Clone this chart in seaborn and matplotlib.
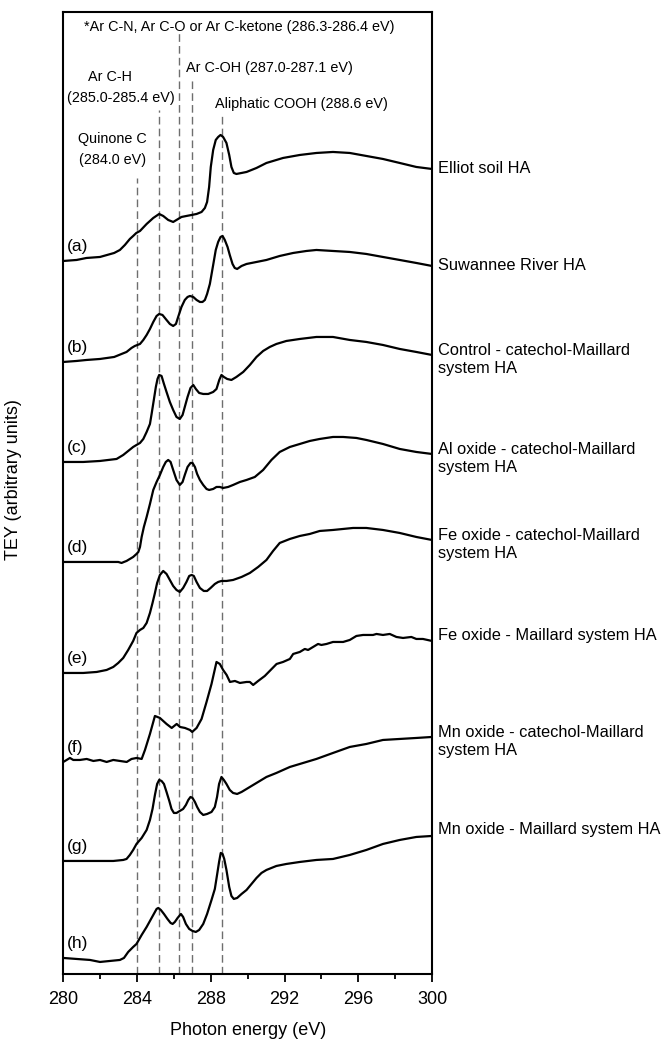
import numpy as np
import pandas as pd
import matplotlib
matplotlib.use("Agg")
import matplotlib.pyplot as plt
import seaborn as sns

# C 1s NEXAFS spectra (TEY), relative to each pre-edge
samples = ["Elliot soil HA", "Suwannee River HA",
           "Control - catechol-Maillard\nsystem HA",
           "Al oxide - catechol-Maillard\nsystem HA",
           "Fe oxide - catechol-Maillard\nsystem HA",
           "Fe oxide - Maillard system HA",
           "Mn oxide - catechol-Maillard\nsystem HA",
           "Mn oxide - Maillard system HA"]
panels = ["(a)", "(b)", "(c)", "(d)", "(e)", "(f)", "(g)", "(h)"]

a_e = [280.0, 280.72, 281.26, 281.99, 282.76, 283.07, 283.34, 283.61, 283.79, 283.96,
       284.16, 284.52, 284.88, 285.2, 285.42, 285.69, 285.96, 286.23, 286.41, 286.68,
       286.96, 287.23, 287.5, 287.68, 287.8, 287.91, 288.0, 288.13, 288.27, 288.4,
       288.53, 288.67, 288.85, 289.0, 289.12, 289.25, 289.39, 289.67, 289.94, 290.48,
       291.02, 291.92, 292.83, 293.73, 294.63, 295.54, 296.44, 297.34, 298.25, 299.15, 300.0]
a_i = [0, 0.01, 0.03, 0.04, 0.08, 0.11, 0.16, 0.22, 0.25, 0.28,
       0.3, 0.37, 0.43, 0.47, 0.45, 0.41, 0.39, 0.42, 0.44, 0.45,
       0.46, 0.47, 0.49, 0.53, 0.59, 0.74, 0.94, 1.11, 1.21, 1.24,
       1.26, 1.24, 1.18, 1.06, 0.94, 0.88, 0.87, 0.88, 0.89, 0.93,
       0.98, 1.03, 1.06, 1.08, 1.09, 1.08, 1.05, 1.02, 0.98, 0.94, 0.92]

b_e = [280.0, 280.72, 281.26, 281.99, 282.76, 283.16, 283.43, 283.7, 283.88, 284.16,
       284.34, 284.52, 284.7, 284.88, 285.06, 285.2, 285.38, 285.6, 285.78, 285.96,
       286.11, 286.23, 286.41, 286.59, 286.74, 286.87, 287.05, 287.23, 287.41, 287.55,
       287.68, 287.8, 287.95, 288.13, 288.27, 288.4, 288.53, 288.64, 288.76, 288.91,
       289.03, 289.18, 289.3, 289.43, 289.67, 289.94, 290.48, 291.02, 291.74, 292.47,
       293.19, 293.73, 294.63, 295.54, 296.44, 297.34, 298.25, 299.15, 300.0]
b_i = [0, 0.01, 0.02, 0.03, 0.05, 0.08, 0.1, 0.14, 0.16, 0.18,
       0.22, 0.27, 0.33, 0.4, 0.46, 0.48, 0.47, 0.42, 0.38, 0.36,
       0.38, 0.45, 0.55, 0.62, 0.65, 0.66, 0.65, 0.62, 0.6, 0.6,
       0.62, 0.68, 0.78, 0.97, 1.12, 1.2, 1.25, 1.26, 1.22, 1.15,
       1.07, 0.98, 0.94, 0.93, 0.96, 0.98, 1.0, 1.02, 1.06, 1.09,
       1.11, 1.12, 1.11, 1.1, 1.08, 1.05, 1.02, 0.99, 0.96]

c_e = [280.0, 281.08, 281.99, 282.89, 283.25, 283.52, 283.79, 283.97, 284.16, 284.34,
       284.52, 284.7, 284.79, 284.91, 285.02, 285.11, 285.2, 285.33, 285.46, 285.6,
       285.78, 285.96, 286.14, 286.32, 286.47, 286.59, 286.74, 286.9, 287.05, 287.19,
       287.37, 287.59, 287.86, 288.13, 288.31, 288.46, 288.58, 288.71, 288.89, 289.12,
       289.39, 289.76, 290.12, 290.48, 290.84, 291.2, 291.56, 292.1, 292.83, 293.73,
       294.63, 295.54, 296.44, 297.34, 298.25, 299.15, 300.0]
c_i = [0, 0.0, 0.01, 0.03, 0.07, 0.11, 0.15, 0.17, 0.19, 0.23,
       0.3, 0.38, 0.48, 0.62, 0.75, 0.83, 0.87, 0.86, 0.78, 0.7,
       0.6, 0.52, 0.45, 0.43, 0.47, 0.55, 0.65, 0.74, 0.77, 0.73,
       0.69, 0.68, 0.68, 0.7, 0.73, 0.82, 0.87, 0.85, 0.83, 0.82,
       0.85, 0.9, 0.97, 1.05, 1.11, 1.15, 1.18, 1.21, 1.23, 1.25,
       1.25, 1.22, 1.2, 1.17, 1.13, 1.1, 1.07]

d_e = [280.0, 281.08, 281.99, 282.98, 283.16, 283.29, 283.43, 283.61, 283.79, 283.97,
       284.07, 284.16, 284.25, 284.37, 284.52, 284.7, 284.88, 285.06, 285.24, 285.42,
       285.56, 285.69, 285.82, 285.96, 286.14, 286.32, 286.47, 286.59, 286.74, 286.9,
       287.01, 287.14, 287.26, 287.41, 287.59, 287.77, 287.91, 288.13, 288.31, 288.49,
       288.67, 288.94, 289.21, 289.58, 289.94, 290.39, 290.84, 291.29, 291.74, 292.29,
       292.83, 293.37, 293.91, 294.63, 295.18, 295.9, 296.44, 297.34, 298.25, 299.15, 300.0]
d_i = [0, 0, 0, 0, -0.01, 0.0, 0.01, 0.03, 0.05, 0.08,
       0.1, 0.15, 0.25, 0.35, 0.45, 0.58, 0.72, 0.8, 0.87, 0.95,
       1.0, 1.02, 1.0, 0.92, 0.82, 0.77, 0.8, 0.87, 0.95, 0.99,
       0.99, 0.95, 0.88, 0.82, 0.77, 0.73, 0.72, 0.73, 0.75, 0.75,
       0.74, 0.75, 0.77, 0.8, 0.82, 0.85, 0.92, 1.02, 1.1, 1.15,
       1.18, 1.21, 1.23, 1.25, 1.25, 1.24, 1.22, 1.18, 1.13, 1.1, 1.08]

e_e = [280.0, 281.08, 281.81, 282.35, 282.71, 282.98, 283.25, 283.52, 283.79,
       283.97, 284.16, 284.34, 284.52, 284.7, 284.84, 284.97, 285.09, 285.24, 285.42,
       285.6, 285.78, 285.96, 286.14, 286.32, 286.5, 286.68, 286.83, 286.96, 287.08,
       287.23, 287.41, 287.62, 287.8, 287.99, 288.22, 288.4, 288.58, 288.85, 289.21,
       289.67, 290.12, 290.57, 291.02, 291.38, 291.74, 292.29, 292.83, 293.37, 293.91,
       294.63, 295.72, 296.44, 297.34, 298.25, 299.15, 300.0]
e_i = [0, 0, 0.01, 0.03, 0.06, 0.1, 0.15, 0.23, 0.32,
       0.4, 0.43, 0.45, 0.5, 0.6, 0.7, 0.8, 0.9, 0.98, 1.02,
       0.99, 0.93, 0.87, 0.83, 0.81, 0.85, 0.91, 0.97, 0.98, 0.97,
       0.91, 0.85, 0.82, 0.82, 0.85, 0.89, 0.91, 0.92, 0.92, 0.93,
       0.96, 1.0, 1.06, 1.13, 1.22, 1.3, 1.34, 1.37, 1.39, 1.42,
       1.43, 1.45, 1.45, 1.43, 1.4, 1.36, 1.33]

f_e = [280.0, 280.36, 280.54, 280.9, 281.27, 281.63, 281.99, 282.35, 282.71, 283.07, 283.44,
       283.7, 283.98, 284.25, 284.43, 284.7, 284.97, 285.24, 285.6, 285.88, 286.15, 286.33,
       286.6, 286.87, 286.99, 287.23, 287.5, 287.77, 288.04, 288.31, 288.49, 288.67, 288.86,
       289.04, 289.31, 289.58, 289.94, 290.12, 290.3, 290.57, 290.93, 291.57, 291.92, 292.29,
       292.47, 292.83, 293.1, 293.28, 293.55, 293.82, 294.0, 294.28, 294.63, 295.18, 295.54,
       295.9, 296.26, 296.8, 296.99, 297.34, 297.71, 298.07, 298.43, 298.88, 299.15, 299.51,
       300.0]
f_i = [0, 0.04, 0.02, 0.02, 0.03, 0.01, 0.02, 0.0, 0.02, 0.01, 0.0,
       0.03, 0.04, 0.03, 0.12, 0.28, 0.46, 0.44, 0.38, 0.34, 0.38, 0.35,
       0.34, 0.32, 0.3, 0.34, 0.43, 0.6, 0.78, 1.0, 0.98, 0.92, 0.87,
       0.8, 0.81, 0.79, 0.8, 0.8, 0.77, 0.81, 0.86, 0.98, 1.0, 1.03,
       1.08, 1.1, 1.13, 1.12, 1.15, 1.18, 1.17, 1.18, 1.2, 1.2, 1.22,
       1.26, 1.27, 1.27, 1.28, 1.27, 1.28, 1.25, 1.24, 1.25, 1.23, 1.23,
       1.21]

g_e = [280.0, 281.08, 281.99, 282.71, 283.25, 283.43, 283.61, 283.79, 283.97, 284.25,
       284.52, 284.7, 284.84, 284.97, 285.09, 285.2, 285.33, 285.46, 285.6, 285.75,
       285.87, 286.0, 286.14, 286.32, 286.5, 286.65, 286.78, 286.9, 287.01, 287.14,
       287.26, 287.41, 287.59, 287.8, 288.04, 288.22, 288.34, 288.45, 288.58, 288.71,
       288.85, 289.03, 289.21, 289.43, 289.67, 289.94, 290.3, 290.66, 291.02, 291.56,
       292.29, 293.01, 293.73, 294.63, 295.54, 296.44, 297.34, 298.25, 299.15, 300.0]
g_i = [0, 0, 0, 0, 0.01, 0.02, 0.06, 0.11, 0.17, 0.23,
       0.31, 0.41, 0.52, 0.66, 0.77, 0.81, 0.8, 0.77, 0.69, 0.6,
       0.52, 0.48, 0.48, 0.5, 0.52, 0.56, 0.61, 0.64, 0.63, 0.59,
       0.54, 0.49, 0.46, 0.47, 0.49, 0.54, 0.64, 0.77, 0.84, 0.81,
       0.77, 0.71, 0.68, 0.67, 0.69, 0.72, 0.76, 0.8, 0.84, 0.88,
       0.94, 0.98, 1.02, 1.08, 1.14, 1.17, 1.21, 1.22, 1.23, 1.24]

h_e = [280.0, 280.72, 281.45, 281.99, 282.53, 283.07, 283.29, 283.52, 283.79, 283.97,
       284.25, 284.52, 284.73, 284.91, 285.06, 285.15, 285.29, 285.46, 285.65, 285.82,
       285.93, 286.05, 286.2, 286.38, 286.5, 286.65, 286.83, 287.01, 287.19, 287.37,
       287.59, 287.8, 288.04, 288.22, 288.34, 288.45, 288.54, 288.64, 288.73, 288.85,
       289.0, 289.12, 289.25, 289.43, 289.67, 289.94, 290.21, 290.48, 290.75, 291.02,
       291.29, 291.56, 292.1, 292.83, 293.73, 294.63, 295.54, 296.44, 297.34, 298.25,
       299.15, 300.0]
h_i = [0, -0.01, -0.02, -0.04, -0.03, -0.02, 0.0, 0.06, 0.11, 0.14,
       0.23, 0.31, 0.38, 0.44, 0.49, 0.5, 0.48, 0.44, 0.39, 0.35,
       0.34, 0.36, 0.4, 0.44, 0.41, 0.34, 0.29, 0.27, 0.26, 0.28,
       0.34, 0.44, 0.58, 0.69, 0.83, 0.96, 1.05, 1.04, 0.99, 0.88,
       0.71, 0.62, 0.59, 0.6, 0.64, 0.68, 0.74, 0.8, 0.85, 0.88,
       0.9, 0.92, 0.94, 0.96, 0.98, 0.99, 1.03, 1.08, 1.14, 1.18,
       1.21, 1.22]

offsets = [7.13, 6.12, 5.12, 4.12, 3.01, 2.12, 1.13, 0.16]

# peak assignments (dashed guide lines)
peak_energy = [284.0, 285.2, 286.3, 287.0, 288.6]

energies = [a_e, b_e, c_e, d_e, e_e, f_e, g_e, h_e]
intens = [a_i, b_i, c_i, d_i, e_i, f_i, g_i, h_i]

parts = []
for name, en, it, off in zip(samples, energies, intens, offsets):
    parts.append(pd.DataFrame({"energy": en, "tey": np.array(it) + off, "sample": name}))
df = pd.concat(parts, ignore_index=True)

sns.set_style("ticks")
plt.rcParams["font.family"] = ["Liberation Sans", "DejaVu Sans"]
plt.rcParams["text.color"] = "black"
plt.rcParams["axes.labelcolor"] = "black"
plt.rcParams["xtick.color"] = "black"

fig = plt.figure(figsize=(6.65, 10.41), dpi=100)
ax = fig.add_axes([0.0952, 0.0644, 0.5544, 0.9241])

# guide lines
line_tops = [7.96, 8.64, 9.41, 8.96, 8.61]
ax.vlines(peak_energy, 0, line_tops, colors="#6e6e6e", linewidth=1.0,
          linestyles=(0, (5.5, 3)), zorder=1)

sns.lineplot(data=df, x="energy", y="tey", units="sample", estimator=None, sort=False,
             color="black", linewidth=1.6, legend=False, ax=ax, zorder=3)

# panel letters and sample names
label_dy = [0.0, 0.0, -0.05, -0.05, -0.05, 0.05, -0.05, 0.06]
for k in range(len(samples)):
    ax.text(280.18, offsets[k] + 0.14, panels[k], fontsize=12.5, ha="left", va="center")
    ax.text(300.31, offsets[k] + intens[k][-1] + label_dy[k], samples[k], fontsize=11.8,
            ha="left", va="center", linespacing=1.25, clip_on=False)

# peak annotations
ann = dict(fontsize=10.4, ha="center", va="center")
ax.text(289.52, 9.47, "*Ar C-N, Ar C-O or Ar C-ketone (286.3-286.4 eV)", **ann)
ax.text(291.2, 9.06, "Ar C-OH (287.0-287.1 eV)", **ann)
ax.text(282.53, 8.97, "Ar C-H", **ann)
ax.text(283.14, 8.76, "(285.0-285.4 eV)", **ann)
ax.text(292.92, 8.70, "Aliphatic COOH (288.6 eV)", **ann)
ax.text(282.66, 8.35, "Quinone C", **ann)
ax.text(282.66, 8.14, "(284.0 eV)", **ann)

ax.set_xlim(280, 300)
ax.set_ylim(0, 9.62)
ax.set_xticks(np.arange(280, 301, 4))
ax.set_xticks(np.arange(280, 301, 2), minor=True)
ax.set_yticks([])
ax.tick_params(axis="x", which="major", direction="out", length=6, width=1.3,
               labelsize=13, pad=6, color="black")
ax.tick_params(axis="x", which="minor", direction="out", length=3.5, width=1.3, color="black")
for sp in ax.spines.values():
    sp.set_linewidth(1.5)
    sp.set_color("black")

ax.set_xlabel("Photon energy (eV)", fontsize=13, labelpad=10)
ax.set_ylabel("TEY (arbitrary units)", fontsize=13)
ax.yaxis.set_label_coords(-0.113, 0.5135)

fig.savefig("out.png", dpi=100)
